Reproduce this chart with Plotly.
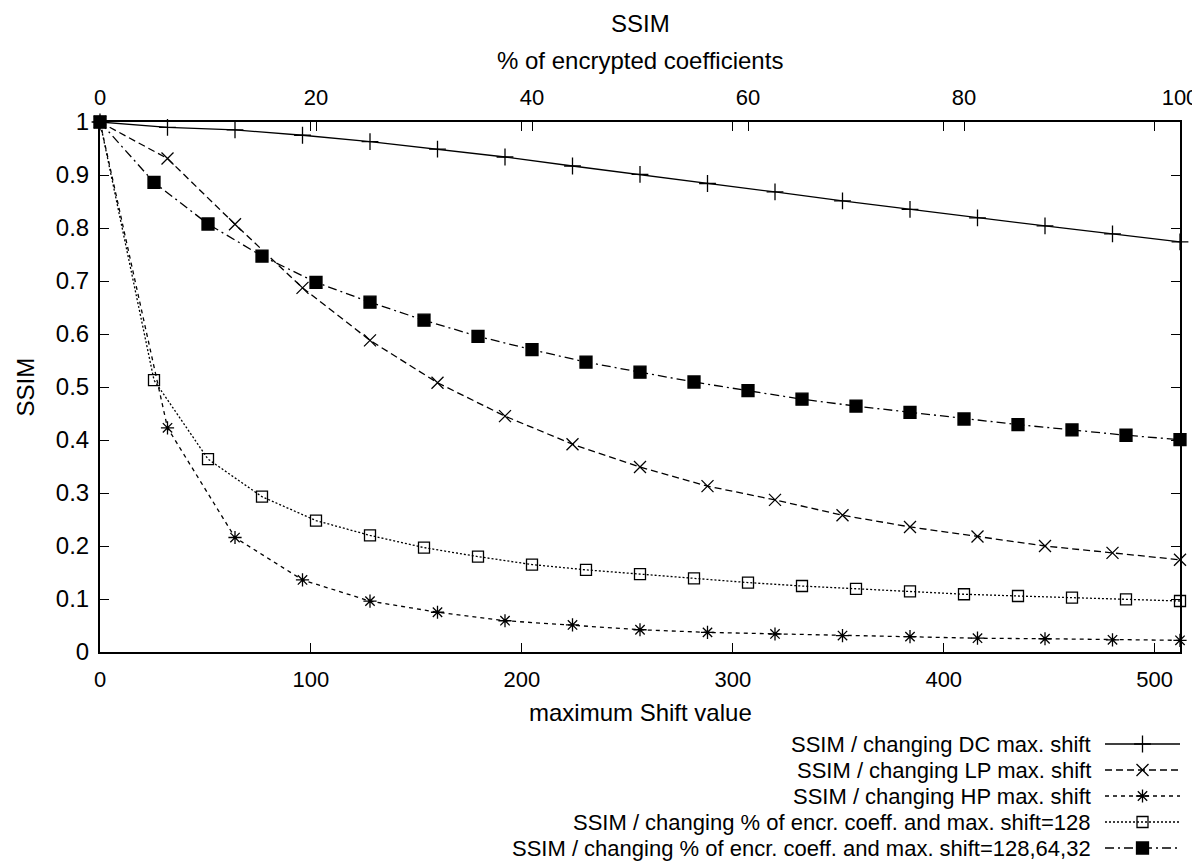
import plotly.graph_objects as go

# ---------------- data ----------------
shift = [0, 32, 64, 96, 128, 160, 192, 224, 256, 288, 320, 352, 384, 416, 448, 480, 512]
ssim_dc = [1.0, 0.990, 0.985, 0.975, 0.963, 0.949, 0.934, 0.917, 0.901, 0.884, 0.868,
           0.851, 0.835, 0.819, 0.804, 0.789, 0.774]
ssim_lp = [1.0, 0.931, 0.807, 0.687, 0.588, 0.508, 0.445, 0.392, 0.349, 0.313, 0.287,
           0.258, 0.236, 0.218, 0.200, 0.187, 0.174]
ssim_hp = [1.0, 0.423, 0.216, 0.136, 0.096, 0.075, 0.059, 0.051, 0.042, 0.037, 0.034,
           0.031, 0.029, 0.026, 0.025, 0.023, 0.022]

percent = [0, 5, 10, 15, 20, 25, 30, 35, 40, 45, 50, 55, 60, 65, 70, 75, 80, 85, 90, 95, 100]
ssim_pct_128 = [1.0, 0.513, 0.364, 0.293, 0.248, 0.220, 0.197, 0.180, 0.165, 0.155, 0.147,
                0.139, 0.131, 0.1245, 0.119, 0.1145, 0.109, 0.1057, 0.1025, 0.0994, 0.0962]
ssim_pct_multi = [1.0, 0.886, 0.8075, 0.747, 0.6975, 0.660, 0.626, 0.5956, 0.5704, 0.547,
                  0.528, 0.5094, 0.493, 0.477, 0.464, 0.452, 0.4396, 0.429, 0.419, 0.409, 0.4006]

legend_labels = [
    "SSIM / changing DC max. shift",
    "SSIM / changing LP max. shift",
    "SSIM / changing HP max. shift",
    "SSIM / changing % of encr. coeff. and max. shift=128",
    "SSIM / changing % of encr. coeff. and max. shift=128,64,32",
]

x_ticks = [0, 100, 200, 300, 400, 500]
x2_ticks = [0, 20, 40, 60, 80, 100]

# ---------------- styles ----------------
FONT = "Liberation Sans, Arial, Helvetica, sans-serif"
LW = 1.3
styles = [
    dict(dash="solid", symbol="cross-thin-open", size=12),
    dict(dash="7px,4px", symbol="x-thin-open", size=12),
    dict(dash="4px,4px", symbol="asterisk-open", size=11),
    dict(dash="2px,2px", symbol="square-open", size=11),
    dict(dash="9px,4px,2px,4px", symbol="square", size=12),
]

series = [
    (shift, ssim_dc, "x", "y"),
    (shift, ssim_lp, "x", "y"),
    (shift, ssim_hp, "x", "y"),
    (percent, ssim_pct_128, "x2", "y"),
    (percent, ssim_pct_multi, "x2", "y"),
]

fig = go.Figure()
for (xs, ys, xa, ya), st, name in zip(series, styles, legend_labels):
    fig.add_trace(go.Scatter(
        x=xs, y=ys, xaxis=xa, yaxis=ya, name=name, mode="lines+markers",
        line=dict(color="black", width=LW, dash=st["dash"]),
        marker=dict(symbol=st["symbol"], size=st["size"], color="black",
                    line=dict(color="black", width=LW)),
        cliponaxis=False, showlegend=False,
    ))

# ---------------- geometry (page has an 8px body margin) ----------------
OFF = 8
W, H = 1200 - OFF, 864 - OFF
PL, PR, PT, PB = 100 - OFF, 1180 - OFF, 122 - OFF, 652 - OFF   # plot area in figure px
ML, MR, MT, MB = PL, W - PR, PT, 4
paper_w = W - ML - MR
paper_h = H - MT - MB
paper_bottom = H - MB
y_dom_low = (paper_bottom - PB) / paper_h


def py(page_y):  # page pixel y -> paper y
    return (paper_bottom - (page_y - OFF)) / paper_h


def px(page_x):  # page pixel x -> paper x
    return ((page_x - OFF) - ML) / paper_w


# ---------------- manual legend (text left of sample, gnuplot style) ----------------
legend_rows = list(range(len(legend_labels)))
for i, st in zip(legend_rows, styles):
    fig.add_trace(go.Scatter(
        x=[0, 1], y=[i, i], xaxis="x3", yaxis="y3", mode="lines",
        line=dict(color="black", width=LW, dash=st["dash"]),
        showlegend=False, hoverinfo="skip", cliponaxis=False,
    ))
    fig.add_trace(go.Scatter(
        x=[0.5], y=[i], xaxis="x3", yaxis="y3", mode="markers",
        marker=dict(symbol=st["symbol"], size=st["size"], color="black",
                    line=dict(color="black", width=LW)),
        showlegend=False, hoverinfo="skip", cliponaxis=False,
    ))

# legend axis: row 0 at page y 744, row 4 at page y 848
D3 = 0.2
top_pix = paper_bottom - D3 * paper_h
p0, p4 = 744 - OFF, 848 - OFF
slope = 4.0 / (p4 - p0)              # rows per pixel (downwards)
r_bottom = 0 + (paper_bottom - p0) * slope
r_top = 0 - (p0 - top_pix) * slope

annotations = []
for i, lab in zip(legend_rows, legend_labels):
    annotations.append(dict(
        text=lab, xref="paper", yref="y3", x=px(1092), y=i,
        xanchor="right", yanchor="middle", showarrow=False, borderpad=0,
        font=dict(family=FONT, size=22, color="black"),
    ))

annotations += [
    dict(text="SSIM", xref="paper", yref="paper", x=0.5, y=py(OFF),
         xanchor="center", yanchor="top", showarrow=False,
         font=dict(family=FONT, size=24, color="black")),
    dict(text="% of encrypted coefficients", xref="paper", yref="paper", x=0.5, y=py(60),
         xanchor="center", yanchor="middle", showarrow=False,
         font=dict(family=FONT, size=24, color="black")),
    dict(text="maximum Shift value", xref="paper", yref="paper", x=0.5, y=py(712),
         xanchor="center", yanchor="middle", showarrow=False,
         font=dict(family=FONT, size=24, color="black")),
    dict(text="SSIM", xref="paper", yref="paper", x=px(OFF + 1), y=py(387),
         xanchor="left", yanchor="middle", showarrow=False, textangle=-90,
         font=dict(family=FONT, size=24, color="black")),
]

axis_common = dict(
    showgrid=False, zeroline=False, ticks="inside", ticklen=9, tickwidth=1.3,
    tickcolor="black", linecolor="black", linewidth=2,
    ticklabeloverflow="allow",
)
xfont = dict(family=FONT, size=22, color="black")
yfont = dict(family=FONT, size=24, color="black")

fig.update_layout(
    width=W, height=H,
    margin=dict(l=ML, r=MR, t=MT, b=MB, autoexpand=False),
    paper_bgcolor="white", plot_bgcolor="white",
    showlegend=False,
    xaxis=dict(range=[0, 512], tickvals=x_ticks, showline=True, mirror="ticks",
               anchor="y", domain=[0, 1], ticklabelstandoff=7, tickfont=xfont,
               **axis_common),
    xaxis2=dict(range=[0, 100], tickvals=x2_ticks, overlaying="x", side="top",
                anchor="y", showline=True, ticklabelstandoff=6, tickfont=xfont,
                **axis_common),
    yaxis=dict(range=[0, 1], dtick=0.1, tick0=0, showline=True, mirror="ticks",
               anchor="x", domain=[y_dom_low, 1], ticklabelstandoff=4, tickfont=yfont,
               **axis_common),
    xaxis3=dict(range=[0, 1], domain=[px(1105), 1.0], anchor="y3", visible=False),
    yaxis3=dict(range=[r_bottom, r_top], domain=[0, D3], anchor="x3", visible=False),
    annotations=annotations,
)

fig.write_html("out.html")
